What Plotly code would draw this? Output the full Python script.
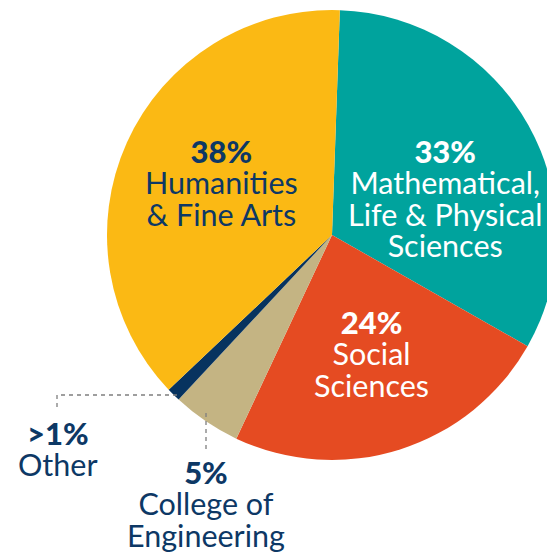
import plotly.graph_objects as go

# Share of degrees by college (clockwise from 12 o'clock)
colleges = [
    "Mathematical, Life & Physical Sciences",
    "Social Sciences",
    "College of Engineering",
    "Other",
    "Humanities & Fine Arts",
]
shares = [33, 24, 5, 1, 38]
share_labels = ["33%", "24%", "5%", ">1%", "38%"]
slice_colors = ["#00A39D", "#E54B22", "#C4B483", "#07335F", "#FBB914"]

# Label lines shown for each college
label_lines = {
    "Humanities & Fine Arts": ["Humanities", "& Fine Arts"],
    "Mathematical, Life & Physical Sciences": ["Mathematical,", "Life & Physical", "Sciences"],
    "Social Sciences": ["Social", "Sciences"],
    "Other": ["Other"],
    "College of Engineering": ["College of", "Engineering"],
}

W, H = 560, 552
NAVY = "#0D3865"
FONT = "Lato"
GLYPH_SIZE = 30.5   # size of the drawn letters
HEAD_SIZE = 31      # size of the bold percentage line
BASE_SIZE = 24.2    # base size: sets the line pitch (1.3 em) of each label
CAP_OFFSET = 21     # from box top to the cap-height centre of the first line


def px(x):
    return x / W


def py(y):
    return 1 - y / H


# Pie geometry in pixels
cx, cy, r = 332, 235, 225

fig = go.Figure(
    go.Pie(
        labels=colleges,
        values=shares,
        sort=False,
        direction="clockwise",
        rotation=2,
        marker=dict(colors=slice_colors, line=dict(width=0)),
        textinfo="none",
        hoverinfo="label+percent",
        domain=dict(x=[px(cx - r), px(cx + r)], y=[py(cy + r), py(cy - r)]),
        showlegend=False,
    )
)

# label anchor: (x centre, cap centre of first line, text colour)
label_pos = {
    "Humanities & Fine Arts": (221, 151, NAVY),
    "Mathematical, Life & Physical Sciences": (445, 151, "white"),
    "Social Sciences": (371, 322, "white"),
    "Other": (58, 433, NAVY),
    "College of Engineering": (206, 472, NAVY),
}

annotations = []
for name, pct in zip(colleges, share_labels):
    xc, y1, col = label_pos[name]
    head = f'<span style="font-size:{HEAD_SIZE}px;font-weight:900">{pct}</span>'
    body = [f'<span style="font-size:{GLYPH_SIZE}px">{t}</span>' for t in label_lines[name]]
    annotations.append(
        dict(
            x=px(xc),
            y=py(y1 - CAP_OFFSET),
            xref="paper",
            yref="paper",
            text="<br>".join([head] + body),
            showarrow=False,
            xanchor="center",
            yanchor="top",
            align="center",
            font=dict(family=FONT, size=BASE_SIZE, color=col),
        )
    )

# dashed leader lines for the two thin slices
leader = dict(color="#7F7F7F", width=1.3, dash="4px,4px")
shapes = [
    dict(type="line", xref="paper", yref="paper",
         x0=px(177), y0=py(395), x1=px(57), y1=py(395), line=leader),
    dict(type="line", xref="paper", yref="paper",
         x0=px(57), y0=py(395), x1=px(57), y1=py(411), line=leader),
    dict(type="line", xref="paper", yref="paper",
         x0=px(206), y0=py(413), x1=px(206), y1=py(449), line=leader),
]

fig.update_layout(
    width=W,
    height=H,
    margin=dict(l=0, r=0, t=0, b=0),
    paper_bgcolor="white",
    plot_bgcolor="white",
    annotations=annotations,
    shapes=shapes,
)

fig.write_html(
    "out.html",
    post_script=(
        "document.documentElement.style.overflow='hidden';"
        "document.body.style.overflow='hidden';"
        "document.body.style.margin='0';"
    ),
)
